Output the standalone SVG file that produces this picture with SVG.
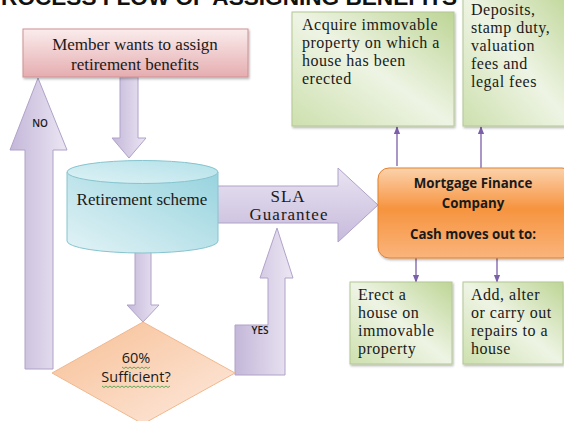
<svg xmlns="http://www.w3.org/2000/svg" width="564" height="421" viewBox="0 0 564 421">
<defs>
<linearGradient id="pinkG" x1="0" y1="0" x2="0" y2="1"><stop offset="0" stop-color="#fbecec"/><stop offset="1" stop-color="#e5adb0"/></linearGradient>
<linearGradient id="cylG" x1="1" y1="0" x2="0" y2="1"><stop offset="0" stop-color="#97d3de"/><stop offset="1" stop-color="#e2f3f6"/></linearGradient>
<linearGradient id="cylTop" x1="1" y1="0" x2="0" y2="1"><stop offset="0" stop-color="#b3e1e9"/><stop offset="1" stop-color="#def2f5"/></linearGradient>
<linearGradient id="arrV" x1="0" y1="0" x2="1" y2="0"><stop offset="0" stop-color="#c4b7d9"/><stop offset="1" stop-color="#ebe6f3"/></linearGradient>
<linearGradient id="arrH" x1="0" y1="0" x2="0" y2="1"><stop offset="0" stop-color="#e9e4f2"/><stop offset="1" stop-color="#c6badb"/></linearGradient>
<linearGradient id="orG" x1="0" y1="0" x2="0" y2="1"><stop offset="0" stop-color="#fcd2ac"/><stop offset="0.45" stop-color="#f6943f"/><stop offset="1" stop-color="#fab47b"/></linearGradient>
<linearGradient id="diaG" x1="0" y1="0" x2="1" y2="1"><stop offset="0" stop-color="#f7bf94"/><stop offset="1" stop-color="#fdeadf"/></linearGradient>
<linearGradient id="grG" x1="1" y1="0" x2="0" y2="1"><stop offset="0" stop-color="#bdd595"/><stop offset="0.5" stop-color="#eef4e4"/><stop offset="1" stop-color="#cde0ae"/></linearGradient>
<filter id="sh" x="-10%" y="-10%" width="130%" height="130%"><feDropShadow dx="1" dy="1.5" stdDeviation="1" flood-color="#000" flood-opacity="0.3"/></filter>
<marker id="ah" viewBox="0 0 10 10" refX="9" refY="5" markerWidth="6" markerHeight="6" orient="auto"><path d="M0,1 L10,5 L0,9 Z" fill="#7b5fa8"/></marker>
</defs>
<style>
.serif{font-family:"Liberation Serif","Times New Roman",serif;font-size:17px;fill:#1a1a1a}
.gt{font-size:16px;letter-spacing:0.5px}
.sans{font-family:"Open Sans","Liberation Sans",sans-serif;fill:#1a1a1a}
.green{fill:url(#grG);stroke:#b3c893;stroke-width:1;filter:url(#sh)}
.blk{stroke:#b0a2c9;stroke-width:1}
.thin{stroke:#7b5fa8;stroke-width:1.3;fill:none;marker-end:url(#ah)}
.sq{stroke:#3e9a3e;stroke-width:0.8;fill:none}
</style>
<rect width="564" height="421" fill="#ffffff"/>
<text x="-14" y="5" font-family="Liberation Sans, Arial, sans-serif" font-weight="700" font-size="22.6" fill="#111">PROCESS FLOW OF ASSIGNING BENEFITS</text>

<g id="connectors">
<polygon class="blk" fill="url(#arrV)" points="25,369 25,150 10,150 38,78 67,150 53,150 53,369"/>
<polygon class="blk" fill="url(#arrV)" points="120,77 138,77 138,138 146,138 129,158 112,138 120,138"/>
<polygon class="blk" fill="url(#arrV)" points="135,250 151,250 151,305 159,305 143,322 127,305 135,305"/>
<polygon class="blk" fill="url(#arrH)" points="215,186 338,186 338,168 378,205 338,242 338,223 215,223"/>
<polygon class="blk" fill="url(#arrV)" points="235,325 268,325 268,278 260,278 277,228 293,278 285,278 285,375 235,375"/>
<line class="thin" x1="397" y1="166" x2="397" y2="127"/>
<line class="thin" x1="481" y1="168" x2="481" y2="127"/>
<line class="thin" x1="416" y1="258" x2="416" y2="282"/>
<line class="thin" x1="497" y1="258" x2="497" y2="282"/>
</g>
<text class="sans" x="40" y="127" font-size="10" font-weight="600" text-anchor="middle">NO</text>
<text class="sans" x="260" y="334" font-size="10" font-weight="600" text-anchor="middle">YES</text>
<text class="serif" x="288" y="202" font-size="16" letter-spacing="1" text-anchor="middle">SLA</text>
<text class="serif" x="289" y="220" font-size="16" letter-spacing="1" text-anchor="middle">Guarantee</text>

<g id="member">
<rect x="23" y="29" width="225" height="48" fill="url(#pinkG)" stroke="#cf9194" stroke-width="1" filter="url(#sh)"/>
<text class="serif" x="135" y="50" text-anchor="middle">Member wants to assign</text>
<text class="serif" x="135" y="70" text-anchor="middle">retirement benefits</text>
</g>

<g id="retirement">
<path d="M67,172 L67,241 A75.5,12 0 0 0 218,241 L218,172 Z" fill="url(#cylG)" stroke="#86c4cf" stroke-width="1"/>
<ellipse cx="142.5" cy="172" rx="75.5" ry="11.5" fill="url(#cylTop)" stroke="#86c4cf" stroke-width="1"/>
<text class="serif" x="142" y="205" text-anchor="middle">Retirement scheme</text>
</g>

<g id="decision">
<polygon points="143,322 235,373 143,424 52,373" fill="url(#diaG)" stroke="#f0b88e" stroke-width="1"/>
<text class="sans" x="136" y="363" font-size="14.5" text-anchor="middle">60%</text>
<text class="sans" x="136" y="382" font-size="14.5" text-anchor="middle">Sufficient?</text>
<path class="sq" d="M122,367 l2,1.5 l2,-1.5 l2,1.5 l2,-1.5 l2,1.5 l2,-1.5 l2,1.5 l2,-1.5 l2,1.5 l2,-1.5 l2,1.5 l2,-1.5 l2,1.5 l2,-1.5"/>
<path class="sq" d="M102,386 l2,1.5 l2,-1.5 l2,1.5 l2,-1.5 l2,1.5 l2,-1.5 l2,1.5 l2,-1.5 l2,1.5 l2,-1.5 l2,1.5 l2,-1.5 l2,1.5 l2,-1.5 l2,1.5 l2,-1.5 l2,1.5 l2,-1.5 l2,1.5 l2,-1.5 l2,1.5 l2,-1.5 l2,1.5 l2,-1.5 l2,1.5 l2,-1.5 l2,1.5 l2,-1.5 l2,1.5 l2,-1.5 l2,1.5 l2,-1.5 l2,1.5 l2,-1.5"/>
</g>

<g id="mortgage">
<rect x="378" y="168" width="195" height="90" rx="11" fill="url(#orG)" stroke="#e2812f" stroke-width="1" filter="url(#sh)"/>
<text class="sans" x="473" y="188" font-size="13.3" font-weight="700" text-anchor="middle">Mortgage Finance</text>
<text class="sans" x="473" y="208" font-size="13.3" font-weight="700" text-anchor="middle">Company</text>
<text class="sans" x="473" y="239" font-size="13.3" font-weight="700" text-anchor="middle">Cash moves out to:</text>
</g>

<g id="acquire">
<rect class="green" x="292" y="12" width="162" height="114"/>
<text class="serif gt" x="302" y="30">Acquire immovable</text>
<text class="serif gt" x="302" y="48">property on which a</text>
<text class="serif gt" x="302" y="66">house has been</text>
<text class="serif gt" x="302" y="84">erected</text>
</g>

<g id="deposits">
<rect class="green" x="463" y="-6" width="110" height="132"/>
<text class="serif gt" x="471" y="15">Deposits,</text>
<text class="serif gt" x="471" y="33">stamp duty,</text>
<text class="serif gt" x="471" y="51">valuation</text>
<text class="serif gt" x="471" y="69">fees and</text>
<text class="serif gt" x="471" y="87">legal fees</text>
</g>

<g id="erect">
<rect class="green" x="350" y="282" width="102" height="82"/>
<text class="serif gt" x="358" y="300">Erect a</text>
<text class="serif gt" x="358" y="318">house on</text>
<text class="serif gt" x="358" y="336">immovable</text>
<text class="serif gt" x="358" y="354">property</text>
</g>

<g id="alter">
<rect class="green" x="463" y="282" width="100" height="82"/>
<text class="serif gt" x="471" y="300">Add, alter</text>
<text class="serif gt" x="471" y="318">or carry out</text>
<text class="serif gt" x="471" y="336">repairs to a</text>
<text class="serif gt" x="471" y="354">house</text>
</g>
</svg>
